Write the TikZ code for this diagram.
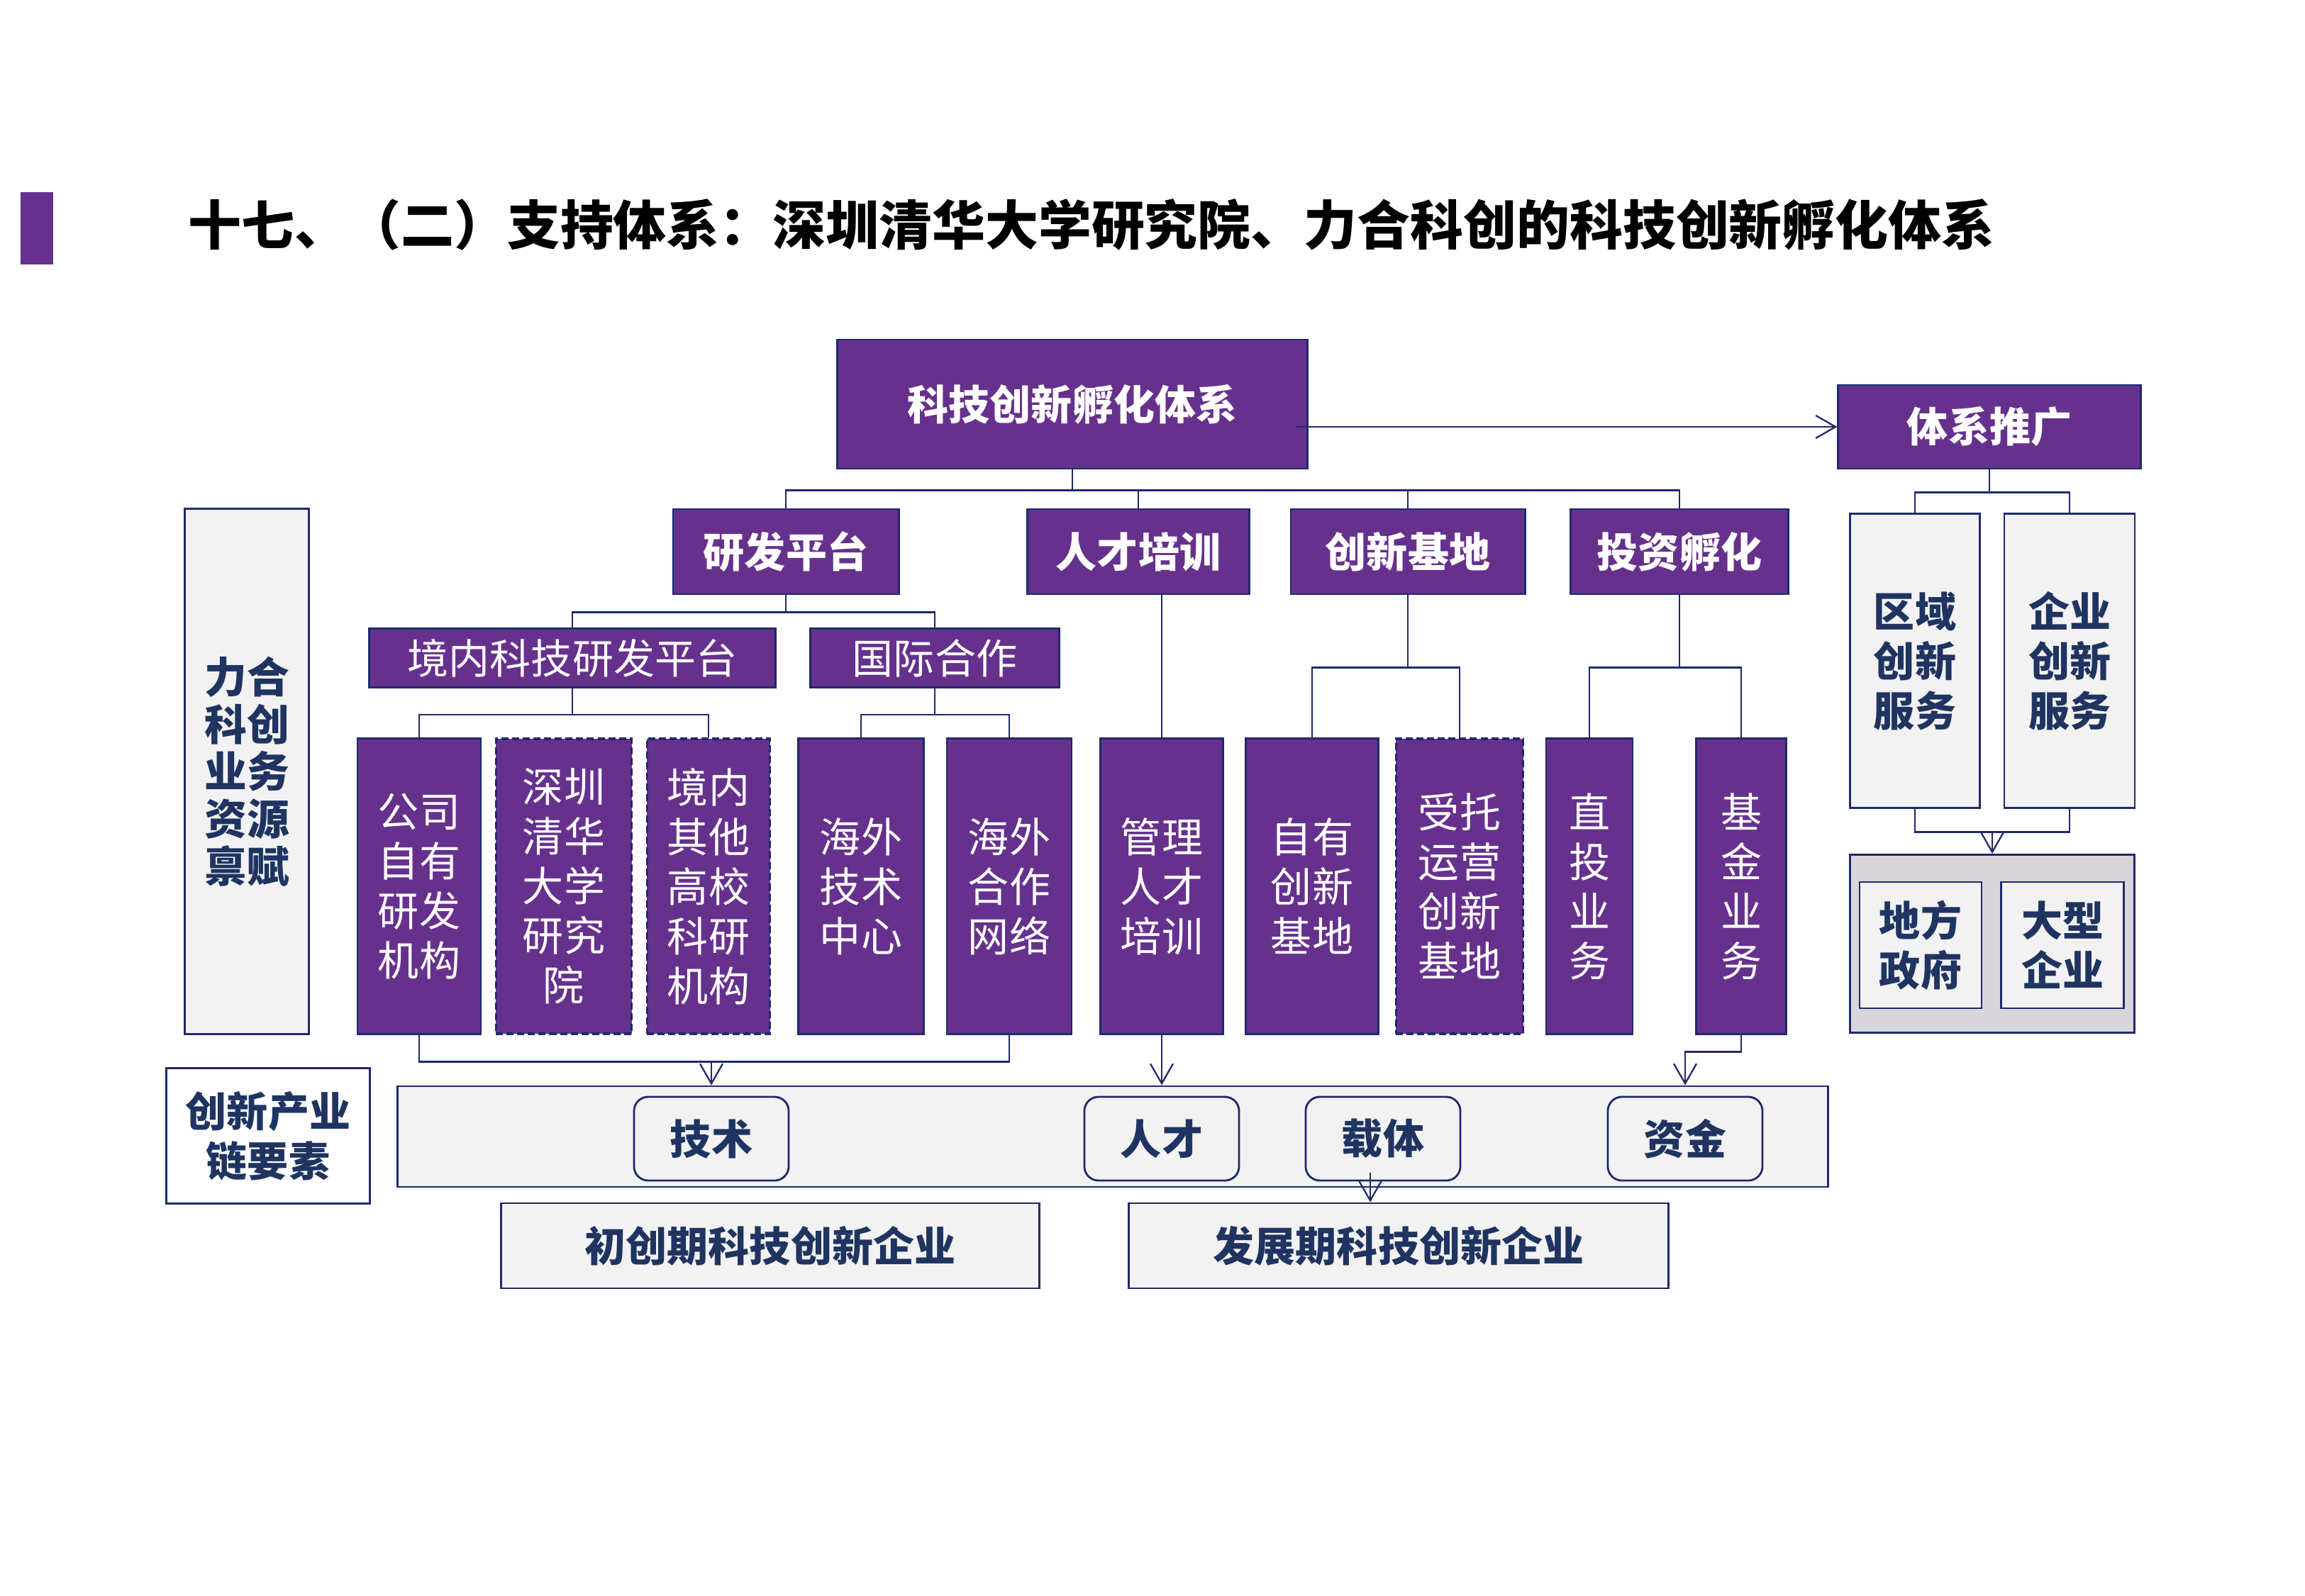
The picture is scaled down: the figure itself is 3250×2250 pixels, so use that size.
\documentclass[tikz,border=0pt]{standalone}
\usepackage{fontspec}
\newfontfamily\cjk{Noto Sans CJK SC}
\usepackage{tikz}
\usetikzlibrary{arrows.meta,positioning,calc}
\definecolor{hatchpurple}{HTML}{66318D}
\definecolor{edgenavy}{HTML}{1F2A6B}
\definecolor{panelgrey}{HTML}{F2F2F2}
\definecolor{wellgrey}{HTML}{D9D6DA}
\definecolor{inknavy}{HTML}{1F3461}
\tikzset{
  unit/.style={rectangle,draw=edgenavy,fill=#1,text=white,line width=0.8pt,inner sep=0pt,
    align=center,font=\cjk\bfseries\fontsize{16.5}{20}\selectfont},
  unit/.default={hatchpurple},
  unitlite/.style={unit,font=\cjk\fontsize{16.5}{19.9}\selectfont},
  col/.style={unitlite,minimum height=4.16cm},
  coldash/.style={col,line width=1pt,dash pattern=on 0.1cm off 0.05cm},
  panel/.style={rectangle,draw=edgenavy,fill=#1,text=inknavy,line width=0.8pt,inner sep=0pt,
    align=center,font=\cjk\bfseries\fontsize{16.5}{19.9}\selectfont},
  panel/.default={panelgrey},
  chip/.style={panel,rounded corners=0.2cm,minimum width=2.18cm,minimum height=1.18cm},
  link/.style={draw=edgenavy,line width=0.65pt},
  linkarrow/.style={link,-{Straight Barb[length=0.28cm,width=0.32cm]}},
}
\begin{document}
\begin{tikzpicture}[x=0.01cm,y=-0.01cm]
  \useasboundingbox (0,0) rectangle (3250,2250);
  \node[fill=hatchpurple,minimum width=0.46cm,minimum height=1.01cm,inner sep=0pt] (bar) at (52,322) {};
  \node[anchor=west,inner sep=0pt,font=\cjk\bfseries\fontsize{21.3}{24}\selectfont] (heading) at (265,317)
    {十七、（二）支持体系：深圳清华大学研究院、力合科创的科技创新孵化体系};
  \node[unit,minimum width=6.62cm,minimum height=1.82cm] (hub) at (1512,570) {科技创新孵化体系};
  \node[unit,minimum width=4.26cm,minimum height=1.18cm] (promo) at (2805,602) {体系推广};
  \node[unit,minimum width=3.18cm,minimum height=1.2cm] (rd) at (1108,778) {研发平台};
  \node[unit,minimum width=3.13cm,minimum height=1.2cm] (talent) at (1605,778) {人才培训};
  \node[unit,minimum width=3.30cm,minimum height=1.2cm] (base) at (1985,778) {创新基地};
  \node[unit,minimum width=3.07cm,minimum height=1.2cm] (invest) at (2368,778) {投资孵化};
  \node[unitlite,minimum width=5.72cm,minimum height=0.83cm] (domestic) at (807,928) {境内科技研发平台};
  \node[unitlite,minimum width=3.51cm,minimum height=0.83cm] (intl) at (1318,928) {国际合作};
  \node[col,minimum width=1.74cm] (ownlab) at (591,1250) {公司\\自有\\研发\\机构};
  \node[coldash,minimum width=1.91cm] (tsinghua) at (795,1250) {深圳\\清华\\大学\\研究\\院};
  \node[coldash,minimum width=1.73cm] (campus) at (999,1250) {境内\\其他\\高校\\科研\\机构};
  \node[col,minimum width=1.77cm] (ostech) at (1214,1250) {海外\\技术\\中心};
  \node[col,minimum width=1.76cm] (osnet) at (1423,1250) {海外\\合作\\网络};
  \node[col,minimum width=1.73cm] (mgmt) at (1638,1250) {管理\\人才\\培训};
  \node[col,minimum width=1.87cm] (ownbase) at (1850,1250) {自有\\创新\\基地};
  \node[coldash,minimum width=1.79cm] (trust) at (2058,1250) {受托\\运营\\创新\\基地};
  \node[col,minimum width=1.22cm] (direct) at (2241,1250) {直\\投\\业\\务};
  \node[col,minimum width=1.27cm] (fundbiz) at (2455,1250) {基\\金\\业\\务};
  \node[panel,minimum width=1.83cm,minimum height=4.14cm] (regional) at (2700,932) {区域\\创新\\服务};
  \node[panel,minimum width=1.84cm,minimum height=4.14cm] (enterprise) at (2918,932) {企业\\创新\\服务};
  \node[panel=wellgrey,minimum width=4.01cm,minimum height=2.51cm] (clients) at (2809,1331) {};
  \node[panel,minimum width=1.72cm,minimum height=1.78cm] (gov) at (2708,1333) {地方\\政府};
  \node[panel,minimum width=1.73cm,minimum height=1.78cm] (corp) at (2908,1333) {大型\\企业};
  \node[panel,minimum width=1.75cm,minimum height=7.40cm,font=\cjk\bfseries\fontsize{17}{19}\selectfont] (endow) at (348,1088)
    {力合\\科创\\业务\\资源\\禀赋};
  \node[panel=white,minimum width=2.87cm,minimum height=1.91cm] (chain) at (378,1602) {创新产业\\链要素};
  \node[panel,minimum width=20.16cm,minimum height=1.42cm] (band) at (1569,1603) {};
  \node[chip] (tech) at (1003,1606) {技术};
  \node[chip] (people) at (1638,1606) {人才};
  \node[chip] (carrier) at (1950,1606) {载体};
  \node[chip] (capital) at (2376,1606) {资金};
  \node[panel,minimum width=7.58cm,minimum height=1.2cm] (early) at (1086,1757) {初创期科技创新企业};
  \node[panel,minimum width=7.60cm,minimum height=1.2cm] (growth) at (1972,1757) {发展期科技创新企业};
  \draw[linkarrow] ([xshift=-0.18cm]hub.east |- promo.west) -- (promo.west);
  \draw[link] (hub.south) -- ++(0,29) -| (rd.north);
  \draw[link] (hub.south) -- ++(0,29) -| (talent.north);
  \draw[link] (hub.south) -- ++(0,29) -| (base.north);
  \draw[link] (hub.south) -- ++(0,29) -| (invest.north);
  \draw[link] (rd.south) -- ++(0,24) -| (domestic.north);
  \draw[link] (rd.south) -- ++(0,24) -| (intl.north);
  \draw[link] (domestic.south) -- ++(0,37) -| (ownlab.north);
  \draw[link] (domestic.south) -- ++(0,37) -| (campus.north);
  \draw[link] (intl.south) -- ++(0,37) -| (ostech.north);
  \draw[link] (intl.south) -- ++(0,37) -| (osnet.north);
  \draw[link] (talent.south -| mgmt.north) -- (mgmt.north);
  \draw[link] (base.south) -- ++(0,102) -| (ownbase.north);
  \draw[link] (base.south) -- ++(0,102) -| (trust.north);
  \draw[link] (invest.south) -- ++(0,102) -| (direct.north);
  \draw[link] (invest.south) -- ++(0,102) -| (fundbiz.north);
  \draw[link] (promo.south) -- ++(0,32) -| (regional.north);
  \draw[link] (promo.south) -- ++(0,32) -| (enterprise.north);
  \draw[link] (regional.south) -- ++(0,33) -| (enterprise.south);
  \draw[linkarrow] ($(regional.south)!0.5!(enterprise.south)+(0,33)$) -- (clients.north);
  \draw[link] (ownlab.south) -- ++(0,38) coordinate (techbus) -| (osnet.south);
  \draw[linkarrow] (techbus -| tech.north) -- (tech.north |- band.north);
  \draw[linkarrow] (mgmt.south) -- (mgmt.south |- band.north);
  \draw[linkarrow] (fundbiz.south) -- ++(0,24) -| (capital.north |- band.north);
  \draw[linkarrow] ([xshift=-0.18cm,yshift=0.12cm]carrier.south) -- ([xshift=-0.18cm]carrier.south |- growth.north);
\end{tikzpicture}
\end{document}
